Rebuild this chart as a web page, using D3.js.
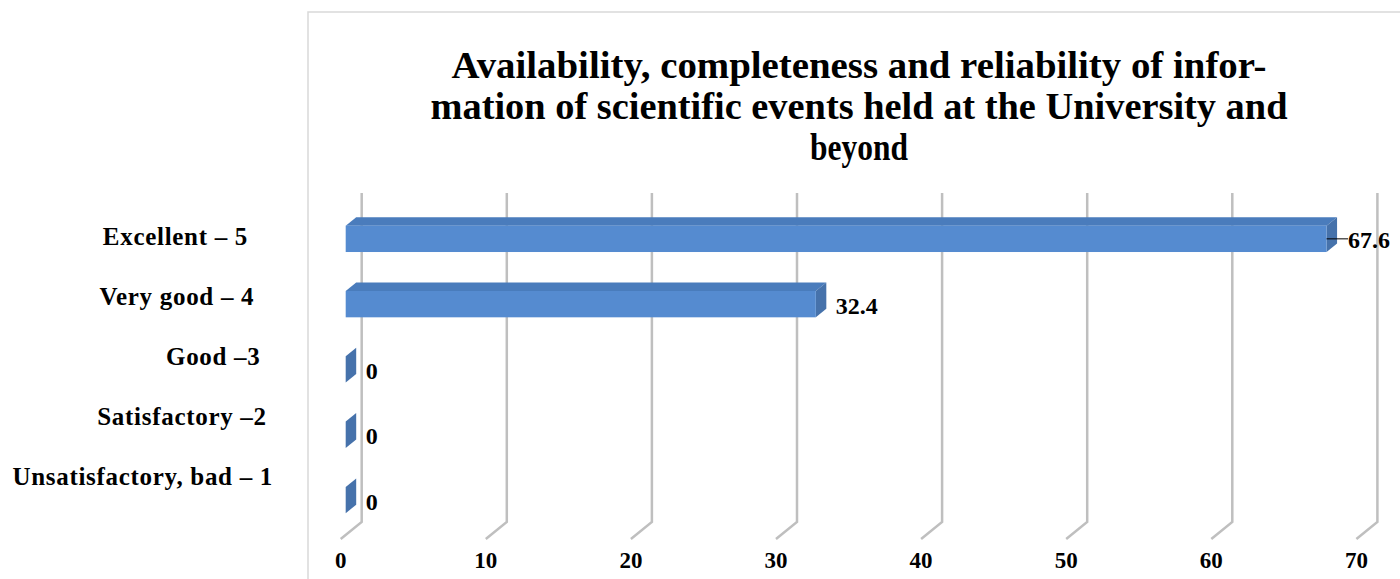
<!DOCTYPE html>
<html>
<head>
<meta charset="utf-8">
<script src="https://cdn.jsdelivr.net/npm/d3@7"></script>
<style>
  body { margin: 0; background: #fff; }
  text { font-family: "Liberation Serif", "Times New Roman", serif; font-weight: bold; fill: #000; }
</style>
</head>
<body>
<script>
// chart data
var categories = ["Excellent – 5", "Very good – 4", "Good –3", "Satisfactory –2", "Unsatisfactory, bad – 1"];
var values = [67.6, 32.4, 0, 0, 0];
var ticks = [0, 10, 20, 30, 40, 50, 60, 70];
var titleLines = [
    "Availability,  completeness and reliability of infor-",
    "mation of scientific events held at the University and",
    "beyond"
];

var width = 1400,
    height = 579;

var svg = d3.select("body")
    .append("svg")
    .attr("width", width)
    .attr("height", height);

// chart frame (left and top edges visible)
svg.append("path")
    .attr("d", "M308,579 L308,12 L1400,12")
    .attr("fill", "none")
    .attr("stroke", "#d9d9d9")
    .attr("stroke-width", 1.5);

// title
var titleWidths = [815, 857, 98];
svg.append("g")
    .selectAll("text")
    .data(titleLines)
    .enter()
    .append("text")
    .attr("x", 859)
    .attr("y", function(d, i){ return 78 + i * 41; })
    .attr("text-anchor", "middle")
    .attr("font-size", "38px")
    .attr("textLength", function(d, i){ return titleWidths[i]; })
    .attr("lengthAdjust", "spacingAndGlyphs")
    .text(function(d){ return d; });

// scales: x for the front plane of the bars, y for bar bands
var x = d3.scaleLinear()
    .domain([0, 70])
    .range([345.7, 345.7 + 70 * 14.51]);

var y = d3.scaleBand()
    .domain(categories)
    .range([225.7, 513.2])
    .paddingInner(0.597)
    .paddingOuter(0);

// 3d offsets
var wallDx = 16, floorDx = -21, floorDy = 17;   // back wall and floor front relative to bar front
var depthDx = 10.5, depthDy = -8.5;            // bar depth
var wallTop = 193, wallBottom = 522;

// gridlines on the back wall, folding onto the floor
svg.append("g")
    .selectAll("path")
    .data(ticks)
    .enter()
    .append("path")
    .attr("d", function(d){
        var bx = x(d) + wallDx;
        return "M" + bx + "," + wallTop + " L" + bx + "," + wallBottom +
            " L" + (bx + floorDx) + "," + (wallBottom + floorDy);
    })
    .attr("fill", "none")
    .attr("stroke", "#bfbfbf")
    .attr("stroke-width", 2.5);

// x tick labels on floor front edge
svg.append("g")
    .selectAll("text")
    .data(ticks)
    .enter()
    .append("text")
    .attr("x", function(d){ return x(d) + wallDx + floorDx; })
    .attr("y", 568)
    .attr("text-anchor", "middle")
    .attr("font-size", "23px")
    .text(function(d){ return d; });

// category labels along the slanted axis
var labelY = d3.scalePoint().domain(categories).range([245, 485]);
var labelX = d3.scalePoint().domain(categories).range([248, 273]);
svg.append("g")
    .selectAll("text")
    .data(categories)
    .enter()
    .append("text")
    .attr("x", function(d){ return labelX(d); })
    .attr("y", function(d){ return labelY(d); })
    .attr("text-anchor", "end")
    .attr("font-size", "25px")
    .attr("letter-spacing", "0.7px")
    .text(function(d){ return d; });

// 3d bars
var data = categories.map(function(c, i){ return {cat: c, value: values[i]}; });
var bw = y.bandwidth();

var bars = svg.append("g")
    .selectAll("g")
    .data(data)
    .enter()
    .append("g");

function poly(pts){
    return "M" + pts.map(function(p){ return p[0] + "," + p[1]; }).join(" L") + " Z";
}

bars.append("path")
    .attr("d", function(d){
        var x0 = x(0), x1 = x(d.value), yt = y(d.cat);
        return poly([[x0, yt], [x1, yt], [x1 + depthDx, yt + depthDy], [x0 + depthDx, yt + depthDy]]);
    })
    .attr("fill", "#4a7cbc");

bars.append("path")
    .attr("d", function(d){
        var x1 = x(d.value), yt = y(d.cat), yb = yt + bw;
        return poly([[x1, yt], [x1 + depthDx, yt + depthDy], [x1 + depthDx, yb + depthDy], [x1, yb]]);
    })
    .attr("fill", "#4672ab");

bars.filter(function(d){ return d.value > 0; })
    .append("rect")
    .attr("x", x(0))
    .attr("y", function(d){ return y(d.cat); })
    .attr("width", function(d){ return x(d.value) - x(0); })
    .attr("height", bw)
    .attr("fill", "#558bd0");

// value labels
var maxValue = d3.max(values);
bars.filter(function(d){ return d.value === maxValue; })
    .append("line")
    .attr("x1", function(d){ return x(d.value); })
    .attr("x2", function(d){ return x(d.value) + depthDx + 11; })
    .attr("y1", function(d){ return y(d.cat) + bw / 2; })
    .attr("y2", function(d){ return y(d.cat) + bw / 2; })
    .attr("stroke", "#000")
    .attr("stroke-width", 1);

bars.append("text")
    .attr("x", function(d){ return x(d.value) + depthDx + (d.value === maxValue ? 11 : 9.5); })
    .attr("y", function(d){ return y(d.cat) + bw / 2 + 9.5; })
    .attr("font-size", "24px")
    .text(function(d){ return d.value; });
</script>
</body>
</html>
